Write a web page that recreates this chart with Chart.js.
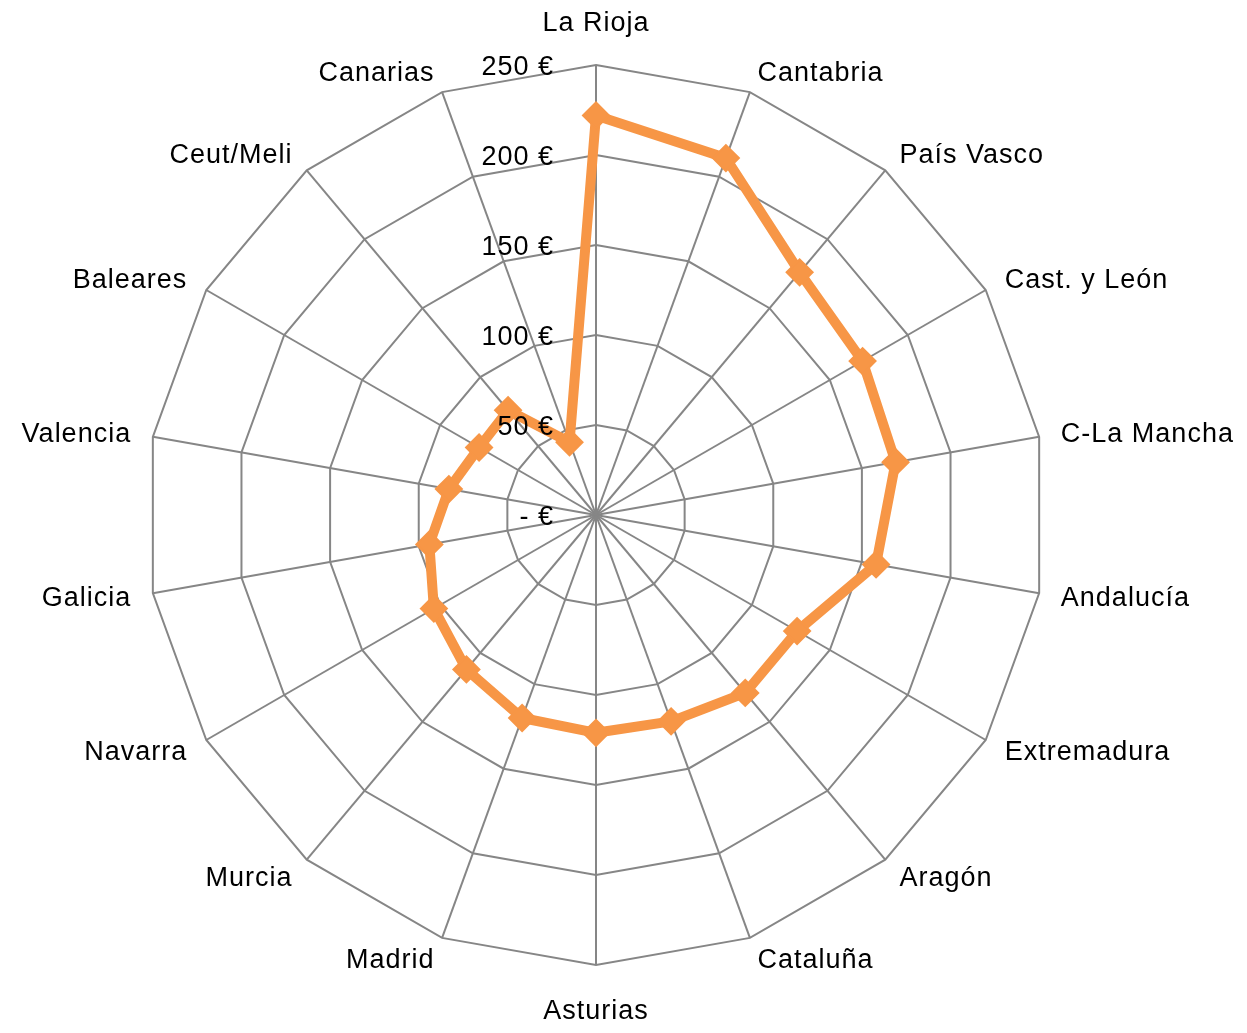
<!DOCTYPE html>
<html>
<head>
<meta charset="utf-8">
<script src="https://cdn.jsdelivr.net/npm/chart.js@4.4.1/dist/chart.umd.min.js"></script>
<style>
    html, body { margin: 0; padding: 0; background: #fff; }
    #caja { width: 1247px; height: 1033px; }
</style>
</head>
<body>
<div id="caja"><canvas id="graficoRegiones"></canvas></div>
<script>
const regiones = ['La Rioja', 'Cantabria', 'País Vasco', 'Cast. y León', 'C-La Mancha', 'Andalucía',
    'Extremadura', 'Aragón', 'Cataluña', 'Asturias', 'Madrid', 'Murcia', 'Navarra', 'Galicia',
    'Valencia', 'Baleares', 'Ceut/Meli', 'Canarias'];
const gasto = [222, 211, 176, 171, 169, 158, 129, 129, 122, 121, 120, 112, 104, 94, 83, 75, 76, 43];
const valoresEje = [0, 50, 100, 150, 200, 250];
const textosEje = ['- €', '50 €', '100 €', '150 €', '200 €', '250 €'];

const FUENTE = '27px "Liberation Sans", Arial, sans-serif';

// etiquetas dibujadas a mano para colocarlas como en Excel
const etiquetas = {
    id: 'etiquetas',
    afterDatasetsDraw(chart) {
        const r = chart.scales.r;
        const ctx = chart.ctx;
        ctx.save();
        ctx.font = FUENTE;
        ctx.letterSpacing = '1px';
        ctx.fillStyle = '#000';

        // valores del eje, a la izquierda del eje vertical
        ctx.textAlign = 'right';
        ctx.textBaseline = 'middle';
        valoresEje.forEach((v, i) => {
            const d = r.getDistanceFromCenterForValue(v);
            ctx.fillText(textosEje[i], r.xCenter - 42, r.yCenter - d + 3);
        });

        // nombres de las regiones
        regiones.forEach((nombre, i) => {
            const p = r.getPointPosition(i, r.drawingArea + 22);
            const dx = p.x - r.xCenter;
            let y = p.y + 2;
            if (Math.abs(dx) < 1) {
                ctx.textAlign = 'center';
                y += (p.y < r.yCenter) ? -21 : 23;
            } else {
                ctx.textAlign = dx > 0 ? 'left' : 'right';
            }
            ctx.fillText(nombre, p.x, y);
        });
        ctx.restore();
    }
};

const ctx = document.getElementById('graficoRegiones');

new Chart(ctx, {
    type: 'radar',
    data: {
        labels: regiones,
        datasets: [{
            data: gasto,
            borderColor: '#F79646',
            backgroundColor: '#F79646',
            borderWidth: 10,
            borderJoinStyle: 'round',
            fill: false,
            pointStyle: 'rectRot',
            pointRadius: 13,
            pointBorderWidth: 2,
            pointBackgroundColor: '#F79646',
            pointBorderColor: '#F79646'
        }]
    },
    options: {
        responsive: true,
        maintainAspectRatio: false,
        animation: false,
        layout: {
            padding: { left: 146, right: 201, top: 65, bottom: 68 }
        },
        plugins: {
            legend: { display: false },
            tooltip: { enabled: false }
        },
        scales: {
            r: {
                min: 0,
                max: 250,
                ticks: { stepSize: 50, display: false },
                pointLabels: { display: false },
                grid: { color: '#868686', lineWidth: 2 },
                angleLines: { color: '#868686', lineWidth: 2 }
            }
        }
    },
    plugins: [etiquetas]
});
</script>
</body>
</html>
